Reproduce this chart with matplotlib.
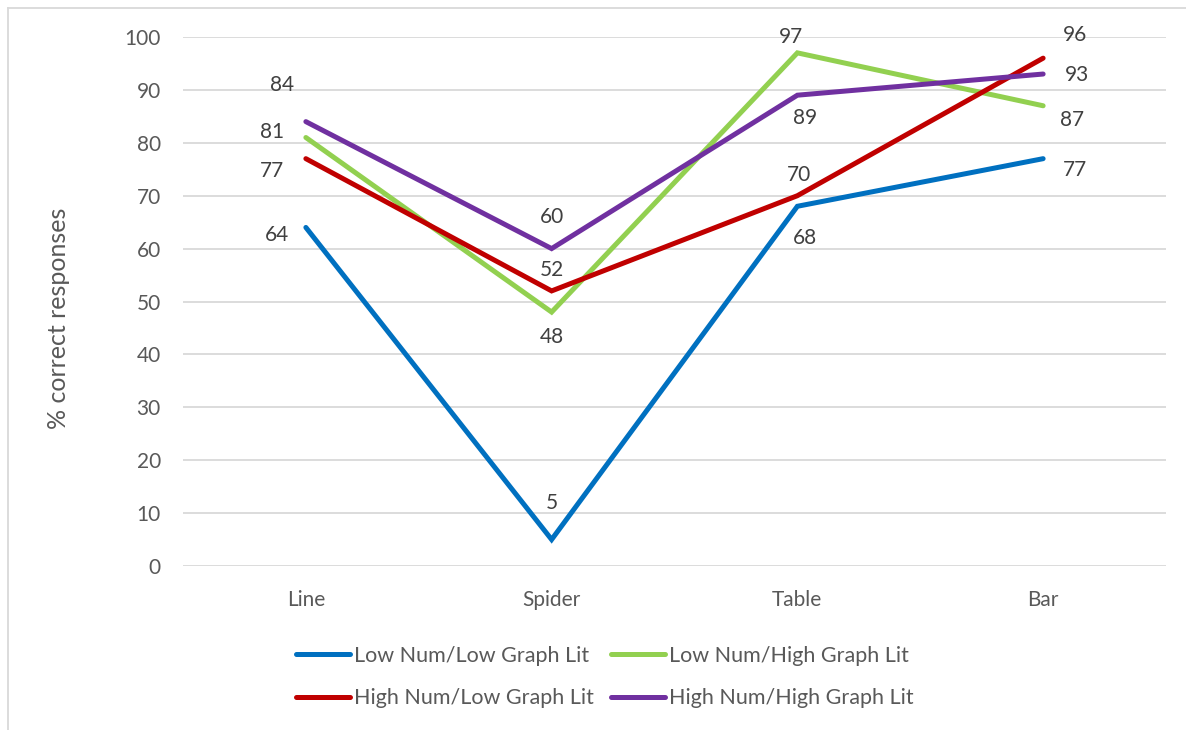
import matplotlib.pyplot as plt
from matplotlib.lines import Line2D

plt.rcParams['font.family'] = ['Lato', 'DejaVu Sans']

categories = ["Line", "Spider", "Table", "Bar"]
series_names = [
    "Low Num/Low Graph Lit",
    "Low Num/High Graph Lit",
    "High Num/Low Graph Lit",
    "High Num/High Graph Lit",
]
low_low = [64, 5, 68, 77]
low_high = [81, 48, 97, 87]
high_low = [77, 52, 70, 96]
high_high = [84, 60, 89, 93]

colors = ["#0070C0", "#92D050", "#C00000", "#7030A0"]

# label offsets in pixels (dx, dy) per series / category
offsets = [
    [(-29, -8), (0, 37), (8, -32), (32, -11)],
    [(-34, 6), (0, -25), (-6, 16), (29, -14)],
    [(-34, -12), (0, 21), (2, 21), (32, 23)],
    [(-24, 37), (0, 32), (8, -23), (34, -1)],
]

fig = plt.figure(figsize=(11.86, 7.30), dpi=100)
ax = fig.add_axes([183 / 1186, 1 - 566 / 730, (1166 - 183) / 1186, (566 - 37) / 730])

x = list(range(len(categories)))
data = [low_low, low_high, high_low, high_high]
for vals, name, c, offs in zip(data, series_names, colors, offsets):
    ax.plot(x, vals, color=c, lw=3.6, label=name, solid_capstyle='round',
            solid_joinstyle='miter', zorder=3)
    for xi, v, (dx, dy) in zip(x, vals, offs):
        ax.annotate(str(v), (xi, v), xytext=(dx, dy), textcoords='offset pixels',
                    ha='center', va='center', fontsize=15, color='#404040', zorder=4)

ax.set_xlim(-0.5, 3.5)
ax.set_ylim(0, 100)
ax.set_yticks(range(0, 101, 10))
ax.set_xticks(x)
ax.set_xticklabels(categories)
ax.yaxis.grid(True, color='#d9d9d9', lw=1.3)
ax.set_axisbelow(True)
for s in ax.spines.values():
    s.set_visible(False)
ax.tick_params(length=0, labelsize=15, labelcolor='#595959')
ax.tick_params(axis='y', pad=16)
ax.tick_params(axis='x', pad=17)
ax.set_ylabel("% correct responses", fontsize=18, color='#595959')
ax.yaxis.set_label_coords(-0.115, 0.469)

# legend filled row by row
order = [0, 2, 1, 3]
handles = [Line2D([0], [0], color=colors[i], lw=3.6, solid_capstyle='round') for i in order]
labels = [series_names[i] for i in order]
leg = fig.legend(handles, labels, loc='center', bbox_to_anchor=(605 / 1186, 1 - 677 / 730),
                 ncol=2, frameon=False, fontsize=15.5, handlelength=2.5, handletextpad=0.2,
                 columnspacing=0.8, labelspacing=1.05)
for t in leg.get_texts():
    t.set_color('#595959')

# outer chart border (left and top visible)
fig.add_artist(Line2D([7.5 / 1186, 7.5 / 1186], [0, 1 - 7.5 / 730], color='#d9d9d9', lw=1.3,
                      transform=fig.transFigure))
fig.add_artist(Line2D([7.5 / 1186, 1], [1 - 7.5 / 730, 1 - 7.5 / 730], color='#d9d9d9', lw=1.3,
                      transform=fig.transFigure))

plt.savefig("out.png", dpi=100)
